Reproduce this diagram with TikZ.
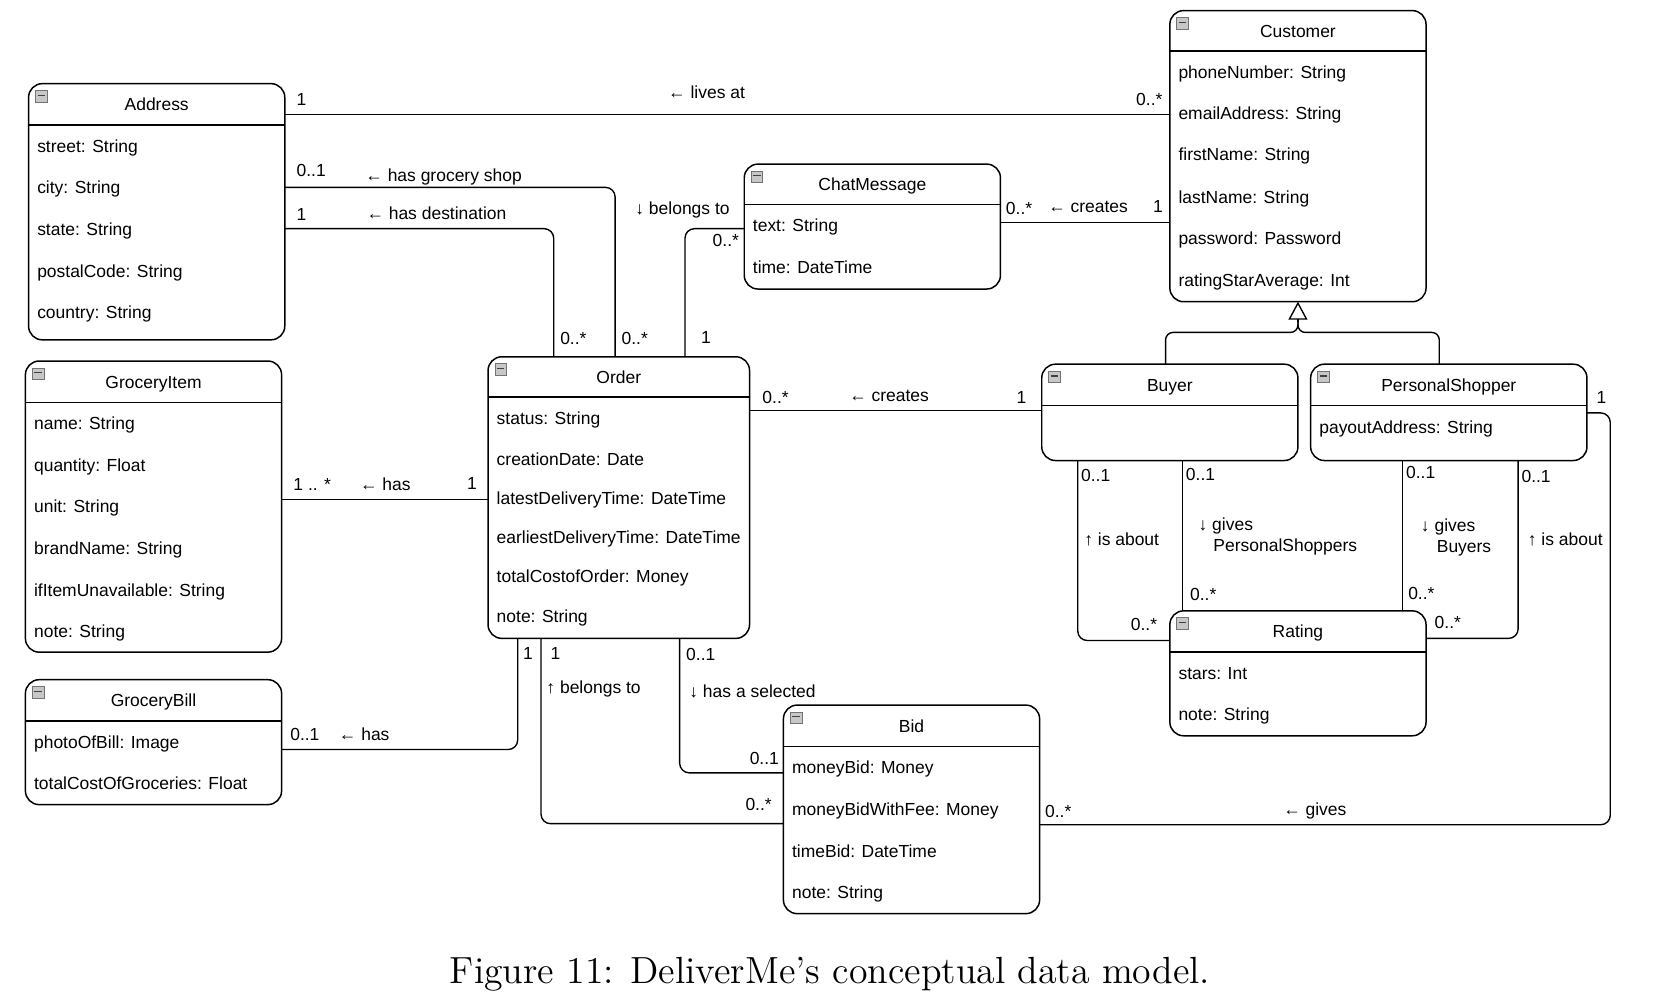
\documentclass[tikz,border=0pt]{standalone}
\usepackage{fontspec}
\usepackage{graphicx}
\usetikzlibrary{arrows.meta}
\newfontfamily\diagfont{Liberation Sans}
\tikzset{
  cls/.style={draw, line width=1.4pt, rounded corners=13pt, fill=white, inner sep=0pt, outer sep=0pt, anchor=north west},
  sepline/.style={line width=1.3pt},
  ttl/.style={font=\diagfont\fontsize{16.5}{20}\selectfont, inner sep=0pt, text height=12pt, text depth=0pt},
  attr/.style={ttl, anchor=west},
  lbl/.style={ttl, anchor=west},
  lbltwo/.style={font=\diagfont\fontsize{16.5}{20}\selectfont, inner sep=0pt, align=left, anchor=north west},
  icon/.style={draw=black!55, fill=black!22, line width=0.6pt, minimum width=11pt, minimum height=11pt, inner sep=0pt,
    path picture={\draw[black!75, line width=1.3pt] ([xshift=2pt,yshift=1pt]path picture bounding box.west) -- ([xshift=-2pt,yshift=1pt]path picture bounding box.east);}},
  assoc/.style={line width=1.3pt, rounded corners=9pt},
}
\newcommand\classbox[7]{%
  \node[cls, minimum width={#4-#2}, minimum height={#5-#3}] (#1) at (#2,#3) {};
  \draw[sepline] (#1.west |- 0,#6) -- (#1.east |- 0,#6);
  \node[ttl] (#1-title) at ({(#2+#4)/2},{(#3+#6)/2}) {#7};
  \node[icon] (#1-icon) at ({#2+12},{#3+12}) {};
}
\begin{document}
\begin{tikzpicture}[x=1pt,y=-1pt]
\fill[white] (0,0) rectangle (1568,951);
\useasboundingbox (0,0) rectangle (1568,951);

% ---------- classes ----------
\classbox{address}{27}{79}{269}{321}{118}{Address}
\node[attr] (address-a1) at (35,138) {street: String};
\node[attr] (address-a2) at (35,177) {city: String};
\node[attr] (address-a3) at (35,216) {state: String};
\node[attr] (address-a4) at (35,256) {postalCode: String};
\node[attr] (address-a5) at (35,295) {country: String};

\classbox{customer}{1105}{10}{1347}{285}{48}{Customer}
\node[attr] (customer-a1) at (1113,68) {phoneNumber: String};
\node[attr] (customer-a2) at (1113,107) {emailAddress: String};
\node[attr] (customer-a3) at (1113,146) {firstName: String};
\node[attr] (customer-a4) at (1113,186) {lastName: String};
\node[attr] (customer-a5) at (1113,225) {password: Password};
\node[attr] (customer-a6) at (1113,265) {ratingStarAverage: Int};

\classbox{chat}{703}{155}{945}{273}{193}{ChatMessage}
\node[attr] (chat-a1) at (711,213) {text: String};
\node[attr] (chat-a2) at (711,252) {time: DateTime};

\classbox{item}{24}{341}{266}{616}{380}{GroceryItem}
\node[attr] (item-a1) at (32,400) {name: String};
\node[attr] (item-a2) at (32,439) {quantity: Float};
\node[attr] (item-a3) at (32,478) {unit: String};
\node[attr] (item-a4) at (32,518) {brandName: String};
\node[attr] (item-a5) at (32,557) {ifItemUnavailable: String};
\node[attr] (item-a6) at (32,596) {note: String};

\classbox{order}{461}{337}{708}{603}{375}{Order}
\node[attr] (order-a1) at (469,395) {status: String};
\node[attr] (order-a2) at (469,434) {creationDate: Date};
\node[attr] (order-a3) at (469,471) {latestDeliveryTime: DateTime};
\node[attr] (order-a4) at (469,507) {earliestDeliveryTime: DateTime};
\node[attr] (order-a5) at (469,544) {totalCostofOrder: Money};
\node[attr] (order-a6) at (469,582) {note: String};

\classbox{buyer}{984}{344}{1226}{435}{383}{Buyer}

\classbox{ps}{1238}{344}{1499}{435}{383}{PersonalShopper}
\node[attr] (ps-a1) at (1246,403) {payoutAddress: String};

\classbox{rating}{1105}{577}{1347}{695}{616}{Rating}
\node[attr] (rating-a1) at (1113,636) {stars: Int};
\node[attr] (rating-a2) at (1113,675) {note: String};

\classbox{bill}{24}{642}{266}{760}{681}{GroceryBill}
\node[attr] (bill-a1) at (32,701) {photoOfBill: Image};
\node[attr] (bill-a2) at (32,740) {totalCostOfGroceries: Float};

\classbox{bid}{740}{666}{982}{863}{705}{Bid}
\node[attr] (bid-a1) at (748,725) {moneyBid: Money};
\node[attr] (bid-a2) at (748,764) {moneyBidWithFee: Money};
\node[attr] (bid-a3) at (748,804) {timeBid: DateTime};
\node[attr] (bid-a4) at (748,843) {note: String};

% ---------- connectors ----------
% lives at
\draw[assoc] (address.east |- 0,108) -- (customer.west |- 0,108);
\node[lbl] (l1a) at (280,94) {1};
\node[lbl] (l1b) at (631,87) {← lives at};
\node[lbl] (l1c) at (1073,94) {0..*};

% has grocery shop
\draw[assoc] (address.east |- 0,177) -| (581,0 |- order.north);
\node[lbl] (l2a) at (280,161) {0..1};
\node[lbl] (l2b) at (345,165) {← has grocery shop};
\node[lbl] (l2c) at (587,319) {0..*};

% has destination
\draw[assoc] (address.east |- 0,216) -| (523,0 |- order.north);
\node[lbl] (l3a) at (280,202) {1};
\node[lbl] (l3b) at (346,201) {← has destination};
\node[lbl] (l3c) at (529,319) {0..*};

% belongs to (chat)
\draw[assoc] (647,0 |- order.north) |- (chat.west |- 0,216);
\node[lbl] (l4a) at (662,318) {1};
\node[lbl] (l4b) at (600,197) {↓ belongs to};
\node[lbl] (l4c) at (673,227) {0..*};

% creates (chat)
\draw[assoc] (chat.east |- 0,210) -- (customer.west |- 0,210);
\node[lbl] (l5a) at (950,197) {0..*};
\node[lbl] (l5b) at (990,195) {← creates};
\node[lbl] (l5c) at (1089,195) {1};

% generalization
\coordinate (gen) at (customer.south |- 0,314);
\draw[assoc, rounded corners=7pt] ([yshift=12pt]gen) -- (gen) -| ([xshift=-4pt]buyer.north);
\draw[assoc, rounded corners=7pt] ([yshift=12pt]gen) -- (gen) -| ([xshift=-9pt]ps.north);
\draw[line width=1.3pt, -{Triangle[open,length=17pt,width=18pt,line width=1.3pt]}] ([yshift=10pt]gen) -- (customer.south);

% creates (order-buyer)
\draw[assoc] (order.east |- 0,388) -- (buyer.west |- 0,388);
\node[lbl] (l6a) at (720,375) {0..*};
\node[lbl] (l6b) at (802,373) {← creates};
\node[lbl] (l6c) at (960,375) {1};

% has (grocery items)
\draw[assoc] (item.east |- 0,472) -- (order.west |- 0,472);
\node[lbl] (l7a) at (277,457) {1 .. *};
\node[lbl] (l7b) at (340,457) {← has};
\node[lbl] (l7c) at (441,456) {1};

% has (grocery bill)
\draw[assoc] (489,0 |- order.south) |- (bill.east |- 0,708);
\node[lbl] (l8a) at (494,617) {1};
\node[lbl] (l8b) at (274,693) {0..1};
\node[lbl] (l8c) at (320,693) {← has};

% belongs to (bid)
\draw[assoc] (511,0 |- order.south) |- (bid.west |- 0,778);
\node[lbl] (l9a) at (520,617) {1};
\node[lbl] (l9b) at (516,649) {↑ belongs to};
\node[lbl] (l9c) at (704,760) {0..*};

% has a selected
\draw[assoc] (642,0 |- order.south) |- (bid.west |- 0,730);
\node[lbl] (l10a) at (648,618) {0..1};
\node[lbl] (l10b) at (651,653) {↓ has a selected};
\node[lbl] (l10c) at (708,716) {0..1};

% gives (bid - personal shopper)
\coordinate (gv) at (1521,390);
\draw[assoc] (bid.east |- 0,779) -| (gv) -- (ps.east |- gv);
\node[lbl] (l11a) at (987,766) {0..*};
\node[lbl] (l11b) at (1212,764) {← gives};
\node[lbl] (l11c) at (1508,375) {1};

% buyer is about
\draw[assoc] (1018,0 |- buyer.south) |- (rating.west |- 0,605);
\node[lbl] (l12a) at (1021,449) {0..1};
\node[lbl] (l12b) at (1024,509) {↑ is about};
\node[lbl] (l12c) at (1068,590) {0..*};

% gives PersonalShoppers
\draw[assoc] (1117,0 |- buyer.south) -- (1117,0 |- rating.north);
\node[lbl] (l13a) at (1120,448) {0..1};
\node[lbltwo] (l13b) at (1132,489) {↓ gives\\\hspace*{14pt}PersonalShoppers};
\node[lbl] (l13c) at (1124,561) {0..*};

% gives Buyers
\draw[assoc] (1325,0 |- ps.south) -- (1325,0 |- rating.north);
\node[lbl] (l14a) at (1328,446) {0..1};
\node[lbltwo] (l14b) at (1342,490) {↓ gives\\\hspace*{15pt}Buyers};
\node[lbl] (l14c) at (1330,560) {0..*};

% ps is about
\draw[assoc] (1434,0 |- ps.south) |- (rating.east |- 0,603);
\node[lbl] (l15a) at (1437,450) {0..1};
\node[lbl] (l15b) at (1443,509) {↑ is about};
\node[lbl] (l15c) at (1355,588) {0..*};

% ---------- caption ----------
\node[inner sep=0pt] (caption) at (784,920) {\resizebox{718pt}{!}{\fontsize{12}{14}\selectfont Figure 11: DeliverMe's conceptual data model.}};
\end{tikzpicture}
\end{document}
